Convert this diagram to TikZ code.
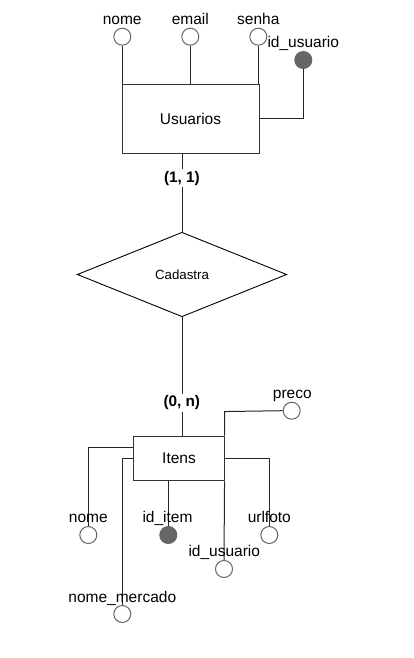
\documentclass[tikz,border=0pt]{standalone}
\usepackage{fontspec}
\setmainfont{Liberation Sans}
\usetikzlibrary{shapes.geometric}
\begin{document}
\begin{tikzpicture}[x=1pt,y=-1pt,
  attr/.style={circle,draw=black!60,fill=white,minimum size=17pt,inner sep=0pt,line width=1pt},
  keyattr/.style={attr,fill=black!60},
  ent/.style={draw=black!80,line width=1pt,fill=white,inner sep=0pt},
  lbl/.style={font=\fontsize{15.5}{18}\selectfont,inner sep=0pt,anchor=base},
  card/.style={font=\fontsize{15.3}{18}\selectfont\bfseries,inner sep=2pt,fill=white,anchor=base},
  conn/.style={line width=1pt,draw=black!85}]
\useasboundingbox (0,0) rectangle (414,658);
% Usuarios
\node[ent,minimum width=137pt,minimum height=68.5pt] (usu) at (190.5,119) {};
\node[lbl] (tusu) at (190.5,124.3) {Usuarios};
\node[attr] (anome) at (122.3,36.7) {};
\node[attr] (aemail) at (190.3,36.7) {};
\node[attr] (asenha) at (258.3,36.7) {};
\node[keyattr] (aidu) at (303.3,60) {};
\draw[conn] (anome.south) -- (anome.south |- usu.north);
\draw[conn] (aemail.south) -- (aemail.south |- usu.north);
\draw[conn] (asenha.south) -- (asenha.south |- usu.north);
\draw[conn] (aidu.south) |- (usu.east);
\node[lbl] (lnome) at (122.2,25) {nome};
\node[lbl] (lemail) at (190.3,25) {email};
\node[lbl] (lsenha) at (258.3,25) {senha};
\node[lbl] (lidu) at (303.3,47.7) {id\_usuario};
% Relationship
\node[diamond,draw=black,line width=0.9pt,fill=white,minimum width=209.5pt,minimum height=84.5pt,inner sep=0pt] (rel) at (182,274.5) {};
\node[font=\fontsize{13.3}{16}\selectfont,inner sep=0pt,anchor=base] (trel) at (182,279) {Cadastra};
% Itens
\node[ent,minimum width=90.7pt,minimum height=44.7pt] (itens) at (178.7,458.4) {};
\node[lbl] (tit) at (179,463.3) {Itens};
\draw[conn] (rel.north) -- (rel.north |- usu.south);
\draw[conn] (rel.south) -- (rel.south |- itens.north);
\node[card] (c1) at (182,182.3) {(1, 1)};
\node[card] (c2) at (181.8,406.7) {(0, n)};
% Itens attributes
\node[attr] (ipreco) at (291.7,410.7) {};
\node[attr] (inome) at (88.3,535) {};
\node[attr] (inm) at (122.3,614) {};
\node[keyattr] (iidi) at (168.3,535) {};
\node[attr] (iidu) at (224,569) {};
\node[attr] (iurl) at (269.3,535) {};
\draw[conn] (itens.north east) -- ++(0,-24) -- (ipreco.west);
\draw[conn] (itens.west |- 0,447.3) -| (inome.north);
\draw[conn] (itens.west |- 0,458.7) -| (inm.north);
\draw[conn] (iidi.north |- itens.south) -- (iidi.north);
\draw[conn] (itens.south east) -- (iidu.north);
\draw[conn] (itens.east |- 0,458.7) -| (iurl.north);
\node[lbl] (lpreco) at (292.3,398.3) {preco};
\node[lbl] (linome) at (88.3,522.7) {nome};
\node[lbl] (liidi) at (167.5,522.7) {id\_item};
\node[lbl] (liurl) at (269.3,522.7) {urlfoto};
\node[lbl] (liidu) at (224.3,556.7) {id\_usuario};
\node[lbl] (linm) at (122.3,602.7) {nome\_mercado};
\end{tikzpicture}
\end{document}
